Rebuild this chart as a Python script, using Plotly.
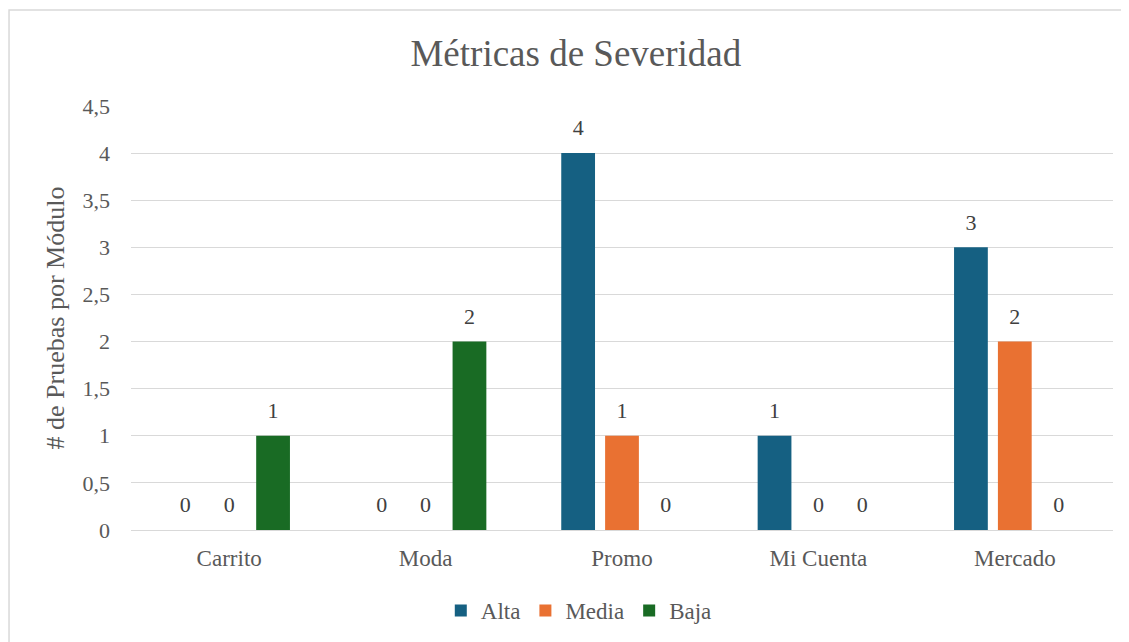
import plotly.graph_objects as go

modulos = ["Carrito", "Moda", "Promo", "Mi Cuenta", "Mercado"]
alta = [0, 0, 4, 1, 3]
media = [0, 0, 1, 0, 2]
baja = [1, 2, 0, 0, 0]

series = [("Alta", alta, "#156082"), ("Media", media, "#E97132"), ("Baja", baja, "#196B24")]

FONT = "Liberation Serif, Times New Roman, serif"
GRAY = "#595959"
GAP = 0.33

fig = go.Figure()
for name, vals, color in series:
    fig.add_trace(go.Bar(
        x=modulos, y=vals, name=name, offsetgroup=name,
        marker=dict(color=color, line=dict(width=0)),
        hoverinfo="x+y+name",
    ))

# data labels, grouped the same way as the bars
for name, vals, color in series:
    fig.add_trace(go.Scatter(
        x=modulos, y=vals, mode="markers+text", showlegend=False,
        text=[str(v) for v in vals], textposition="top center",
        textfont=dict(family=FONT, size=22, color="#404040"),
        marker=dict(size=18, opacity=0), offsetgroup=name,
        hoverinfo="skip", cliponaxis=False,
    ))

fig.update_layout(
    width=1129, height=642,
    paper_bgcolor="white", plot_bgcolor="white",
    font=dict(family=FONT, color=GRAY, size=21),
    margin=dict(l=123, r=24, t=98, b=120),
    title=dict(text="Métricas de Severidad", x=0.503, xanchor="center",
               y=0.93, yanchor="middle",
               font=dict(family=FONT, size=37, color=GRAY)),
    barmode="group", bargap=GAP, bargroupgap=0.23,
    scattermode="group", scattergap=GAP,
    showlegend=True,
    legend=dict(orientation="h", x=0.456, xanchor="center", y=-0.19, yanchor="middle",
                font=dict(family=FONT, size=23, color=GRAY), traceorder="normal",
                itemwidth=30),
    separators=",.",
)
fig.update_xaxes(showgrid=False, showline=False, ticks="", ticklabelstandoff=12,
                 tickfont=dict(family=FONT, size=23, color=GRAY))
fig.update_yaxes(range=[0, 4.5], dtick=0.5, showgrid=True, gridcolor="#D9D9D9",
                 gridwidth=1.3, zeroline=True, zerolinecolor="#D9D9D9", zerolinewidth=1.3,
                 ticks="", ticklabelstandoff=20,
                 tickfont=dict(family=FONT, size=22, color=GRAY),
                 title=dict(text="# de Pruebas por Módulo",
                            font=dict(family=FONT, size=26, color=GRAY), standoff=10))

# chart border
fig.add_shape(type="rect", xref="paper", yref="paper",
              x0=-0.1242, x1=1.03, y0=-0.3, y1=1.2264,
              line=dict(color="#D9D9D9", width=1.5), fillcolor="rgba(0,0,0,0)", layer="below")

fig.write_html("out.html")
